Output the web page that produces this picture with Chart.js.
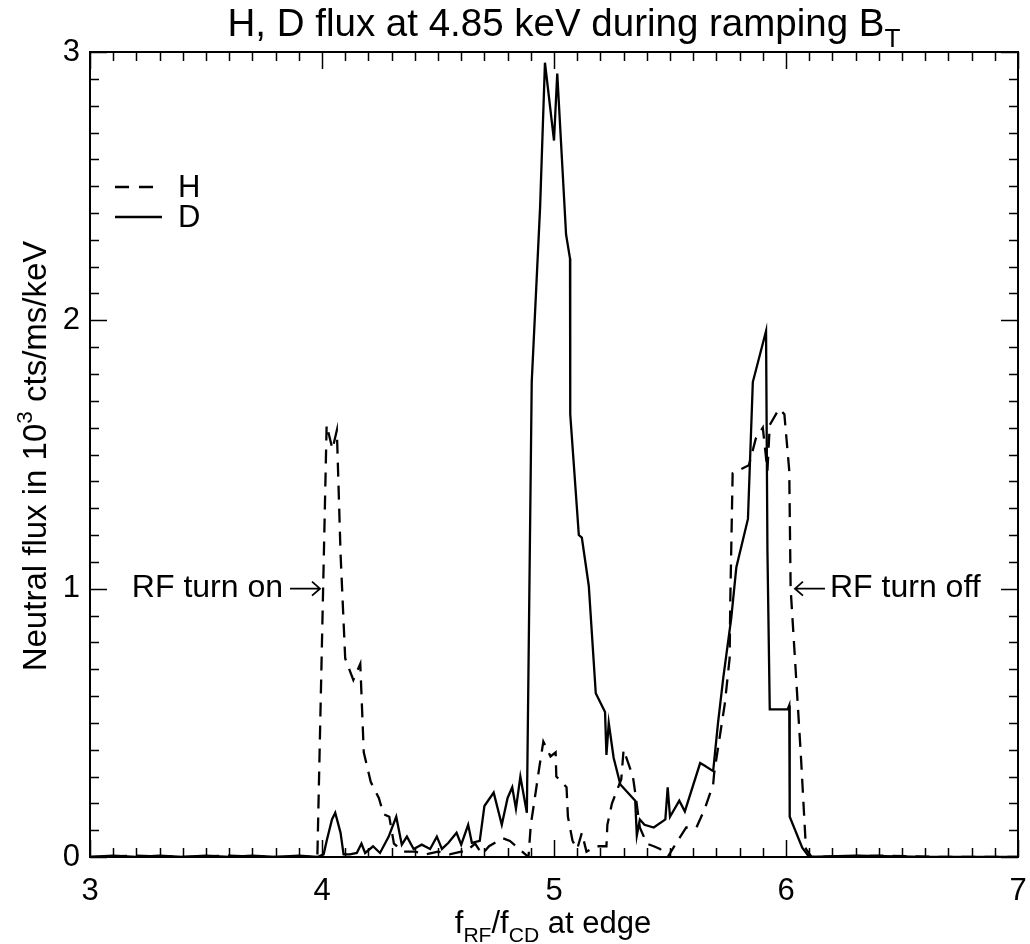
<!DOCTYPE html>
<html>
<head>
<meta charset="utf-8">
<script src="https://cdn.jsdelivr.net/npm/chart.js@4"></script>
<style>
  body { margin: 0; background: #fff; }
  #wrap { width: 1030px; height: 944px; }
</style>
</head>
<body>
<div id="wrap"><canvas id="myChart"></canvas></div>
<script>
	var FONT = '"Liberation Sans", Arial, Helvetica, sans-serif';

	// H (dashed) : f_RF/f_CD and flux
	var hX = [3.0, 3.2, 3.4, 3.6, 3.8, 3.98, 4.02, 4.045, 4.064, 4.08, 4.10, 4.135, 4.165, 4.18, 4.21, 4.245, 4.265, 4.29, 4.31,
		4.35, 4.40, 4.45, 4.50, 4.55, 4.60, 4.62, 4.66, 4.69, 4.72, 4.78, 4.81, 4.89, 4.90, 4.914, 4.936, 4.954, 4.985, 5.007,
		5.01, 5.054, 5.06, 5.08, 5.10, 5.12, 5.14, 5.18, 5.226, 5.23, 5.25, 5.29, 5.30, 5.34, 5.35, 5.37, 5.40, 5.43, 5.457,
		5.49, 5.54, 5.57, 5.614, 5.65, 5.686, 5.69, 5.736, 5.757, 5.76, 5.77, 5.84, 5.87, 5.90, 5.92, 5.93, 5.97, 5.993,
		6.014, 6.02, 6.04, 6.064, 6.086, 6.11, 6.4, 6.7, 7.0];
	var hY = [0.0, 0.005, 0.0, 0.005, 0.0, 0.0, 1.61, 1.52, 1.59, 1.13, 0.74, 0.66, 0.72, 0.39, 0.28, 0.22, 0.16, 0.15, 0.05,
		0.02, 0.02, 0.01, 0.02, 0.01, 0.02, 0.02, 0.05, 0.01, 0.04, 0.07, 0.06, 0.0, 0.12, 0.2, 0.33, 0.43, 0.375, 0.39,
		0.30, 0.26, 0.15, 0.06, 0.03, 0.09, 0.02, 0.04, 0.04, 0.12, 0.2, 0.29, 0.40, 0.3, 0.24, 0.11, 0.05, 0.04, 0.03,
		0.0, 0.07, 0.11, 0.11, 0.18, 0.27, 0.31, 0.57, 0.74, 0.96, 1.43, 1.46, 1.56, 1.60, 1.44, 1.61, 1.67, 1.65,
		1.44, 1.0, 0.72, 0.38, 0.03, 0.0, 0.005, 0.0, 0.0];

	// D (solid)
	var dX = [3.0, 3.1, 3.2, 3.3, 3.4, 3.5, 3.6, 3.7, 3.8, 3.9, 3.98, 4.007, 4.02, 4.043, 4.057, 4.08, 4.093, 4.12, 4.15, 4.17,
		4.186, 4.22, 4.25, 4.287, 4.32, 4.344, 4.366, 4.395, 4.43, 4.466, 4.495, 4.517, 4.545, 4.58, 4.60, 4.63, 4.646, 4.68,
		4.70, 4.74, 4.775, 4.80, 4.82, 4.836, 4.855, 4.883, 4.904, 4.94, 4.961, 5.0, 5.014, 5.052, 5.069, 5.07, 5.107, 5.12,
		5.15, 5.18, 5.22, 5.226, 5.236, 5.257, 5.286, 5.35, 5.357, 5.37, 5.39, 5.43, 5.48, 5.49, 5.50, 5.54, 5.564, 5.63,
		5.65, 5.686, 5.707, 5.73, 5.764, 5.786, 5.836, 5.857, 5.914, 5.92, 5.93, 6.007, 6.014, 6.016, 6.07, 6.10, 6.3, 6.6, 7.0];
	var dY = [0.0, 0.005, 0.0, 0.005, 0.0, 0.005, 0.0, 0.005, 0.0, 0.005, 0.0, 0.01, 0.06, 0.14, 0.165, 0.09, 0.01, 0.01, 0.015, 0.05,
		0.015, 0.04, 0.015, 0.075, 0.15, 0.046, 0.076, 0.03, 0.046, 0.03, 0.076, 0.03, 0.053, 0.09, 0.046, 0.12, 0.053, 0.06,
		0.19, 0.24, 0.12, 0.22, 0.26, 0.18, 0.30, 0.165, 1.77, 2.42, 2.96, 2.67, 2.92, 2.32, 2.23, 1.65, 1.20, 1.19,
		1.01, 0.61, 0.54, 0.38, 0.50, 0.37, 0.27, 0.21, 0.08, 0.14, 0.12, 0.11, 0.14, 0.26, 0.15, 0.21, 0.17, 0.35,
		0.34, 0.32, 0.50, 0.67, 0.89, 1.08, 1.26, 1.77, 1.96, 1.14, 0.55, 0.55, 0.565, 0.15, 0.035, 0.0, 0.005, 0.0, 0.0];

	var xTicks = [3, 4, 5, 6, 7];
	var yTicks = [0, 1, 2, 3];

	function pts(xs, ys) {
		var out = [];
		for (var i = 0; i < xs.length; i++) out.push({ x: xs[i], y: ys[i] });
		return out;
	}

	// text with sub (s=1) / superscript (s=-1) parts, centred on x
	function richText(ctx, parts, x, y, size) {
		var total = 0;
		parts.forEach(function(p) {
			ctx.font = (p.s ? size * 0.68 : size) + 'px ' + FONT;
			p.w = ctx.measureText(p.t).width;
			total += p.w;
		});
		var cx = x - total / 2;
		parts.forEach(function(p) {
			ctx.font = (p.s ? size * 0.68 : size) + 'px ' + FONT;
			var dy = p.s == 1 ? size * 0.28 : (p.s == -1 ? -size * 0.42 : 0);
			ctx.fillText(p.t, cx, y + dy);
			cx += p.w;
		});
	}

	var decor = {
		id: 'decor',
		afterDraw: function(chart) {
			var ctx = chart.ctx, a = chart.chartArea;
			var xs = chart.scales.x, ys = chart.scales.y;
			ctx.save();
			ctx.strokeStyle = '#000';
			ctx.fillStyle = '#000';
			ctx.lineWidth = 2;
			ctx.strokeRect(a.left, a.top, a.right - a.left, a.bottom - a.top);

			// inward ticks on all four sides
			ctx.lineWidth = 1.5;
			ctx.beginPath();
			for (var i = 0; i <= 40; i++) {
				var px = Math.round(xs.getPixelForValue(3 + i / 10)) + 0.5;
				var len = i % 10 == 0 ? 17 : 9;
				ctx.moveTo(px, a.bottom); ctx.lineTo(px, a.bottom - len);
				ctx.moveTo(px, a.top); ctx.lineTo(px, a.top + len);
			}
			for (var j = 0; j <= 30; j++) {
				var py = Math.round(ys.getPixelForValue(j / 10)) + 0.5;
				var l2 = j % 10 == 0 ? 17 : 9;
				ctx.moveTo(a.left, py); ctx.lineTo(a.left + l2, py);
				ctx.moveTo(a.right, py); ctx.lineTo(a.right - l2, py);
			}
			ctx.stroke();

			// titles
			ctx.textBaseline = 'alphabetic';
			richText(ctx, [{ t: 'H, D flux at 4.85 keV during ramping B', s: 0 }, { t: 'T', s: 1 }], 564, 36, 38.5);
			richText(ctx, [{ t: 'f', s: 0 }, { t: 'RF', s: 1 }, { t: '/f', s: 0 }, { t: 'CD', s: 1 }, { t: ' at edge', s: 0 }], 553, 933, 31);
			ctx.save();
			ctx.translate(46, 456);
			ctx.rotate(-Math.PI / 2);
			richText(ctx, [{ t: 'Neutral flux in 10', s: 0 }, { t: '3', s: -1 }, { t: ' cts/ms/keV', s: 0 }], 0, 0, 33);
			ctx.restore();

			// legend
			ctx.lineWidth = 2.3;
			ctx.setLineDash([14, 10]);
			ctx.beginPath(); ctx.moveTo(115, 187); ctx.lineTo(162, 187); ctx.stroke();
			ctx.setLineDash([]);
			ctx.beginPath(); ctx.moveTo(115, 217); ctx.lineTo(162, 217); ctx.stroke();
			ctx.font = '31px ' + FONT;
			ctx.textBaseline = 'middle';
			ctx.textAlign = 'left';
			ctx.fillText('H', 178, 188);
			ctx.fillText('D', 178, 218);

			// RF on / off markers
			var y1 = ys.getPixelForValue(1);
			var xOn = xs.getPixelForValue(4.0), xOff = xs.getPixelForValue(6.03);
			ctx.font = '32px ' + FONT;
			ctx.textAlign = 'right';
			ctx.fillText('RF turn on', 283, y1);
			ctx.textAlign = 'left';
			ctx.fillText('RF turn off', 830, y1);
			ctx.lineWidth = 1.8;
			ctx.beginPath();
			ctx.moveTo(xOn - 32, y1); ctx.lineTo(xOn - 2, y1);
			ctx.moveTo(xOn - 10, y1 - 7); ctx.lineTo(xOn - 2, y1); ctx.lineTo(xOn - 10, y1 + 7);
			ctx.moveTo(xOff + 32, y1); ctx.lineTo(xOff + 2, y1);
			ctx.moveTo(xOff + 10, y1 - 7); ctx.lineTo(xOff + 2, y1); ctx.lineTo(xOff + 10, y1 + 7);
			ctx.stroke();
			ctx.restore();
		}
	};

	var ctx = document.getElementById('myChart');
	var config = {
		type: 'line',
		data: {
			datasets: [{
				label: 'H',
				data: pts(hX, hY),
				borderColor: '#000',
				borderWidth: 2.3,
				borderDash: [14, 9],
				pointRadius: 0,
				tension: 0,
				fill: false
			}, {
				label: 'D',
				data: pts(dX, dY),
				borderColor: '#000',
				borderWidth: 2.3,
				pointRadius: 0,
				tension: 0,
				fill: false
			}]
		},
		options: {
			responsive: true,
			maintainAspectRatio: false,
			animation: false,
			layout: { padding: { top: 52, right: 12, left: 0, bottom: 0 } },
			plugins: { legend: { display: false }, tooltip: { enabled: false } },
			scales: {
				x: {
					type: 'linear',
					min: 3, max: 7,
					afterFit: function(s) { s.height = 87; s.paddingLeft = 0; s.paddingRight = 0; },
					afterBuildTicks: function(s) { s.ticks = xTicks.map(function(v) { return { value: v }; }); },
					grid: { display: false, drawTicks: false },
					border: { display: false },
					ticks: { color: '#000', padding: 16, font: { family: FONT, size: 31 } }
				},
				y: {
					min: 0, max: 3,
					afterFit: function(s) { s.width = 90; s.paddingTop = 0; s.paddingBottom = 0; },
					afterBuildTicks: function(s) { s.ticks = yTicks.map(function(v) { return { value: v }; }); },
					grid: { display: false, drawTicks: false },
					border: { display: false },
					ticks: { color: '#000', padding: 10, font: { family: FONT, size: 31 } }
				}
			}
		},
		plugins: [decor]
	};
	var myChart = new Chart(ctx, config);
</script>
</body>
</html>
